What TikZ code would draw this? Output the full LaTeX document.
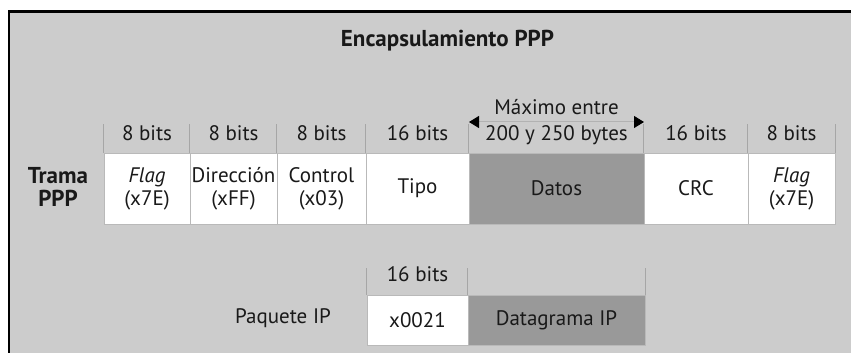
\documentclass[tikz,border=0pt]{standalone}
\usepackage{fontspec}
\setmainfont{PT Sans}
\usetikzlibrary{arrows.meta,positioning}

\begin{document}
\begin{tikzpicture}[x=0.5pt,y=-0.5pt,
  every node/.style={font=\fontsize{10.5}{11.5}\selectfont,text=black!90},
  field/.style={draw=gray!55,line width=0.5pt,fill=white,minimum height=35.5pt,inner sep=0pt,align=center},
  darkfield/.style={field,fill=gray!80},
  sep/.style={draw=gray!70,line width=0.6pt},
  bits/.style={inner sep=0pt},
  rotulo/.style={align=center,font=\fontsize{11.5}{11.5}\selectfont\bfseries},
  rango/.style={<->,>={Triangle[length=5pt,width=6pt,color=black]},draw=gray!60,line width=0.5pt}]

\useasboundingbox (0,0) rectangle (851,353);
\fill[gray!40] (9,11.5) rectangle (851,353);
\draw[line width=1.4pt] (9,353) -- (9,11.5) -- (851,11.5);

\node (titulo) at (447.5,41)[rotulo] {Encapsulamiento PPP};
\node (trama) at (58,187)[rotulo] {Trama\\PPP};

% trama PPP
\node (flagA) at (147,188.5)[field,minimum width=43pt] {\textit{Flag}\\(x7E)};
\node (dir) at (233.5,188.5)[field,minimum width=43.5pt] {Direcci\'on\\(xFF)};
\node (ctrl) at (321.5,188.5)[field,minimum width=44.5pt] {Control\\(x03)};
\node (tipo) at (417.5,188.5)[field,minimum width=51.5pt] {Tipo};
\node (datos) at (556.5,188.5)[darkfield,minimum width=87.5pt] {Datos};
\node (crc) at (696,188.5)[field,minimum width=52pt] {CRC};
\node (flagB) at (791.5,188.5)[field,minimum width=43.5pt] {\textit{Flag}\\(x7E)};

\foreach \c in {flagA,dir,ctrl,tipo,datos,crc,flagB}
  \draw[sep] (\c.north west) -- ++(0,-28);
\draw[sep] (flagB.north east) -- ++(0,-28);

\node (hA) at (147,133)[bits] {8 bits};
\node (hB) at (233.5,133)[bits] {8 bits};
\node (hC) at (321.5,133)[bits] {8 bits};
\node (hD) at (417.5,133)[bits] {16 bits};
\node (hE) at (556.5,135)[bits] {200 y 250 bytes};
\node (hF) at (696,133)[bits] {16 bits};
\node (hG) at (791.5,133)[bits] {8 bits};
\node (maximo) at (556.5,107)[bits] {M\'aximo entre};

\coordinate (rL) at (469,122);
\coordinate (rR) at (644,122);
\draw[rango] (rL) -- (rR);

% paquete IP
\node (paquete) at (283,318) {Paquete IP};
\node (proto) at (417.5,320)[field,minimum width=50.5pt,minimum height=25pt] {x0021};
\node (datagrama) at (556.5,320)[darkfield,minimum width=88.5pt,minimum height=25pt] {Datagrama IP};
\node (hIP) at (417.5,274)[bits] {16 bits};

\foreach \c in {proto,datagrama}
  \draw[sep] (\c.north west) -- ++(0,-27);
\draw[sep] (datagrama.north east) -- ++(0,-27);

\end{tikzpicture}
\end{document}
